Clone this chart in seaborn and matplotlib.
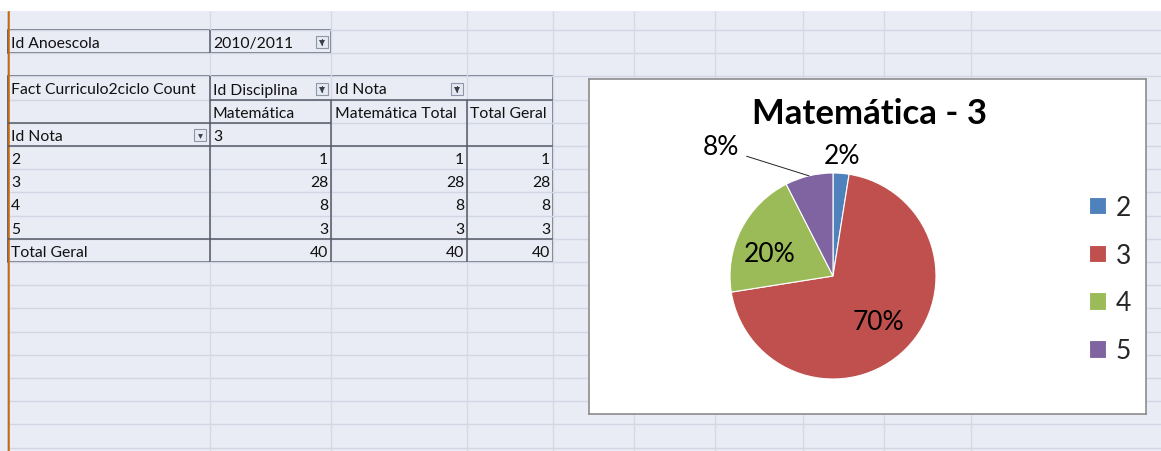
import numpy as np
import matplotlib.pyplot as plt
from matplotlib.patches import Rectangle
import seaborn as sns

# dados da tabela dinamica (Excel)
ano_escolar = "2010/2011"
disciplina = "Matemática"
nota_filtro = "3"
notas = ["2", "3", "4", "5"]
contagens = [1, 28, 8, 3]
cores = ["#4F81BD", "#C0504D", "#9BBB59", "#8064A2"]

W, H = 1161, 452
sns.set_theme(style="white")
plt.rcParams['font.family'] = ['Lato', 'DejaVu Sans']

fig = plt.figure(figsize=(W / 100, H / 100), dpi=100)
bg = fig.add_axes([0, 0, 1, 1])
bg.set_xlim(0, W)
bg.set_ylim(H, 0)
bg.axis('off')

# fundo da planilha + linhas de grade
TOP = 12
ROW0, ROWH = 31.0, 23.2
bg.add_patch(Rectangle((0, TOP), W, H - TOP, color='#E9EBF5', lw=0))
linhas = ROW0 + ROWH * np.arange(19)
colunas = [210, 331, 467, 553, 634, 715, 803, 884, 971]
bg.hlines(linhas, 8, W, color='#D2D6E3', lw=1)
bg.vlines(colunas, TOP, H, color='#D6D9E5', lw=1)
bg.vlines(7.5, TOP, H, color='#222222', lw=1)
bg.vlines(9, TOP, H, color='#E07A10', lw=1.2)

def y_lin(i):
    return ROW0 + ROWH * i

def y_cel(i):
    return ROW0 + ROWH * (i + 0.5) + 1.5

borda = dict(color='#555A66', lw=1.1)
# caixa do filtro
bg.add_patch(Rectangle((8, y_lin(0)), 323, ROWH, fill=False, ec='#555A66', lw=1.1))
bg.vlines(210, y_lin(0), y_lin(1), **borda)
# tabela dinamica
bg.add_patch(Rectangle((8, y_lin(2)), 545, y_lin(10) - y_lin(2), fill=False, ec='#555A66', lw=1.1))
bg.hlines(y_lin(3), 210, 553, **borda)
bg.hlines(y_lin(4), 8, 331, **borda)
bg.hlines(y_lin(5), 8, 553, **borda)
bg.hlines(y_lin(9), 8, 553, **borda)
bg.vlines(210, y_lin(2), y_lin(10), **borda)
bg.vlines([331, 467], y_lin(3), y_lin(10), **borda)

fs = 11.3
txt = dict(fontsize=fs, va='center', color='#111111')

def botao(x, y, filtro=True):
    bg.add_patch(Rectangle((x - 6, y - 6), 12, 12, fc='#E4E9F2', ec='#8E97AA', lw=0.8))
    bg.plot([x], [y + 1], marker='v', ms=4 if filtro else 3.5, color='#3A3F4A', mew=0)
    if filtro:
        bg.plot([x, x], [y - 3, y + 3], color='#3A3F4A', lw=0.8)

bg.text(11, y_cel(0), "Id Anoescola", **txt)
bg.text(213, y_cel(0), ano_escolar, **txt)
botao(322, y_cel(0) - 1)

bg.text(11, y_cel(2), "Fact Curriculo2ciclo Count", **txt)
bg.text(213, y_cel(2), "Id Disciplina", **txt)
botao(322, y_cel(2) - 1)
bg.text(335, y_cel(2), "Id Nota", **txt)
botao(457, y_cel(2) - 1)

bg.text(213, y_cel(3), disciplina, **txt)
bg.text(335, y_cel(3), disciplina + " Total", **txt)
bg.text(470, y_cel(3), "Total Geral", **txt)

bg.text(11, y_cel(4), "Id Nota", **txt)
botao(200, y_cel(4) - 1, filtro=False)
bg.text(213, y_cel(4), nota_filtro, **txt)

for i, (n, c) in enumerate(zip(notas, contagens)):
    bg.text(11, y_cel(5 + i), n, **txt)
    for xr in (328, 464, 550):
        bg.text(xr, y_cel(5 + i), str(c), ha='right', **txt)
total = sum(contagens)
bg.text(11, y_cel(9), "Total Geral", **txt)
for xr in (328, 464, 550):
    bg.text(xr, y_cel(9), str(total), ha='right', **txt)

# grafico de pizza
BX0, BY0, BX1, BY1 = 589, 80, 1146, 415
CX, CY, R = 833, 277, 103
ax = fig.add_axes([BX0 / W, 1 - BY1 / H, (BX1 - BX0) / W, (BY1 - BY0) / H])
wedges, _ = ax.pie(contagens, colors=cores, startangle=90, counterclock=False,
                   wedgeprops=dict(edgecolor='white', linewidth=0.8))
ax.set_aspect('auto')
ax.set_xlim((BX0 - CX) / R, (BX1 - CX) / R)
ax.set_ylim((CY - BY1) / R, (CY - BY0) / R)
ax.set_facecolor('white')
ax.set_frame_on(True)
for s in ax.spines.values():
    s.set_visible(True)
    s.set_color('#8C8C8C')
    s.set_linewidth(1.2)

ax.text((869 - CX) / R, (CY - 124) / R, f"{disciplina} - {nota_filtro}",
        ha='center', va='baseline', fontsize=25, fontweight='bold', color='black')

# rotulos de porcentagem: (distancia, desvio do angulo)
pos_rotulos = [(1.17, 0), (0.62, 0), (0.65, 7), (1.66, 27.5)]
for w, c, (d, da) in zip(wedges, contagens, pos_rotulos):
    meio = np.deg2rad((w.theta1 + w.theta2) / 2)
    ang = meio + np.deg2rad(da)
    rot = f"{round(100 * c / total)}%"
    x, y = d * np.cos(ang), d * np.sin(ang)
    ax.text(x, y, rot, ha='center', va='center', fontsize=19, color='black')
    if d > 1.4:
        ax.plot([x + 0.25, np.cos(meio)], [y - 0.09, np.sin(meio)], color='#222222', lw=0.7)

ax.legend(wedges, notas, loc='center left', frameon=False, fontsize=19,
          bbox_to_anchor=((1089 - BX0) / (BX1 - BX0), (BY1 - 280) / (BY1 - BY0)),
          handlelength=0.65, handleheight=0.65, handletextpad=0.35, labelspacing=0.86,
          borderpad=0, borderaxespad=0)

fig.savefig("out.png", dpi=100)
